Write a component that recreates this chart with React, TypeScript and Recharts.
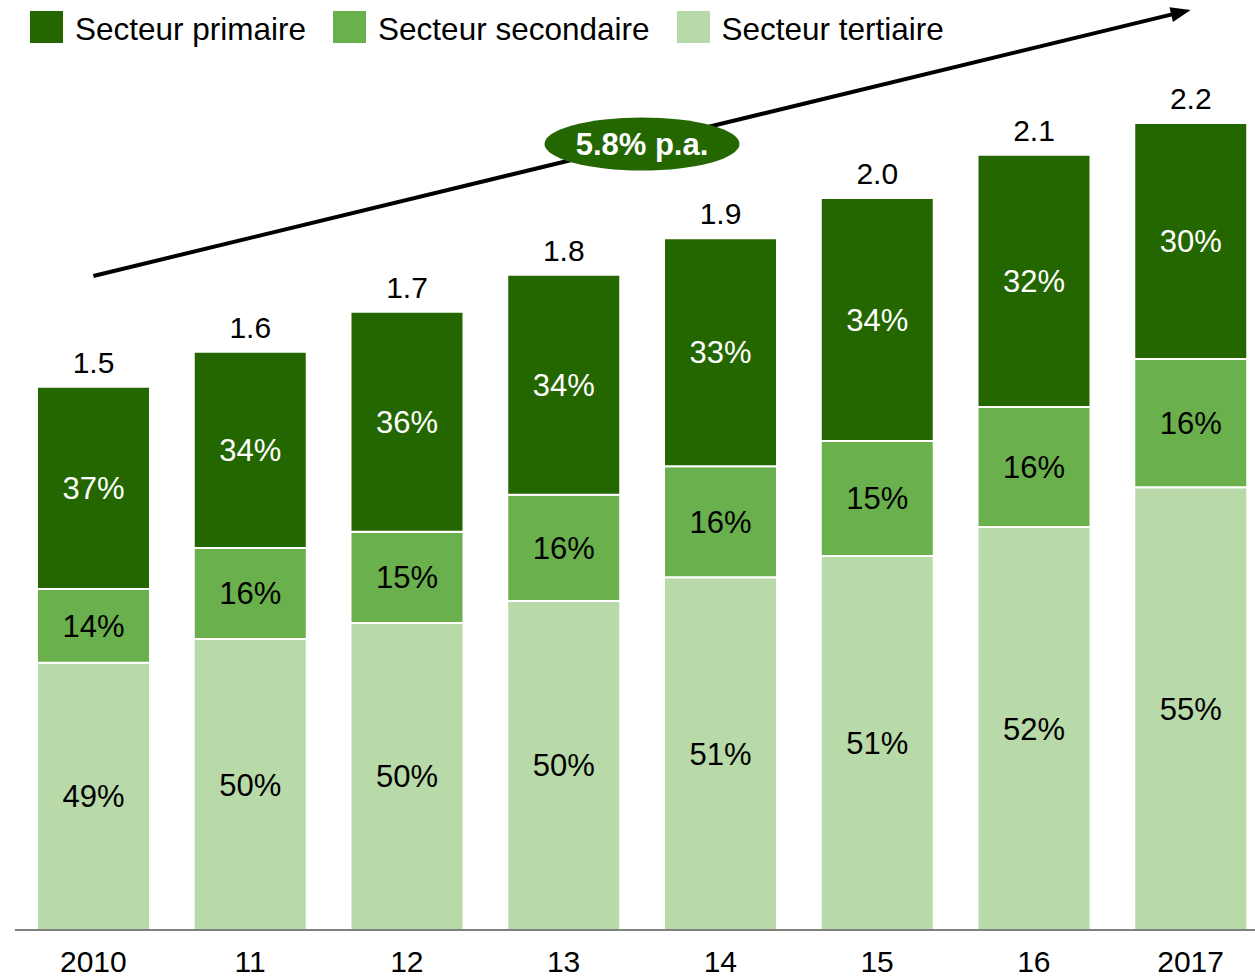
import { BarChart, Bar, XAxis, YAxis, LabelList, Legend, ReferenceLine } from 'recharts';

const years = ['2010', '11', '12', '13', '14', '15', '16', '2017'];
const totalLabels = ['1.5', '1.6', '1.7', '1.8', '1.9', '2.0', '2.1', '2.2'];

// segment sizes (same unit as the totals)
const tertiaire = [0.73, 0.795, 0.839, 0.899, 0.964, 1.022, 1.101, 1.21];
const secondaire = [0.202, 0.249, 0.249, 0.29, 0.303, 0.314, 0.328, 0.35];
const primaire = [0.552, 0.536, 0.601, 0.601, 0.623, 0.664, 0.689, 0.645];

const pctTertiaire = ['49%', '50%', '50%', '50%', '51%', '51%', '52%', '55%'];
const pctSecondaire = ['14%', '16%', '15%', '16%', '16%', '15%', '16%', '16%'];
const pctPrimaire = ['37%', '34%', '36%', '34%', '33%', '34%', '32%', '30%'];

const growthLabel = '5.8% p.a.';
const trendStart = 1.787;
const trendEnd = 2.514;

const DARK = '#246600';
const MID = '#6ab04c';
const LIGHT = '#b8d9a8';

const legendItems = [
  { name: 'Secteur primaire', color: DARK },
  { name: 'Secteur secondaire', color: MID },
  { name: 'Secteur tertiaire', color: LIGHT },
];

const data = years.map((year, i) => ({
  year,
  tertiaire: tertiaire[i],
  secondaire: secondaire[i],
  primaire: primaire[i],
  pctT: pctTertiaire[i],
  pctS: pctSecondaire[i],
  pctP: pctPrimaire[i],
  total: totalLabels[i],
}));

const renderLegend = () => (
  <div style={{ display: 'flex', alignItems: 'center' }}>
    {legendItems.map((item) => (
      <div key={item.name} style={{ display: 'flex', alignItems: 'center', marginRight: 27 }}>
        <span style={{ width: 33, height: 32, background: item.color, display: 'inline-block' }} />
        <span style={{ marginLeft: 12, fontSize: 31.5, lineHeight: '32px', color: '#000', position: 'relative', top: 2 }}>
          {item.name}
        </span>
      </div>
    ))}
  </div>
);

// trend arrow with the growth badge at its middle
const TrendArrow = (props: any) => {
  const { x1, y1, x2, y2 } = props;
  const len = Math.hypot(x2 - x1, y2 - y1);
  const ux = (x2 - x1) / len;
  const uy = (y2 - y1) / len;
  const nx = -uy;
  const ny = ux;
  const headLen = 20;
  const headW = 7.5;
  const bx = x2 - ux * headLen;
  const by = y2 - uy * headLen;
  const mx = (x1 + x2) / 2;
  const my = (y1 + y2) / 2 + 1;
  return (
    <g>
      <line x1={x1} y1={y1} x2={bx + ux * 2} y2={by + uy * 2} stroke="#000" strokeWidth={4} />
      <polygon
        points={`${x2},${y2} ${bx + nx * headW},${by + ny * headW} ${bx - nx * headW},${by - ny * headW}`}
        fill="#000"
      />
      <ellipse cx={mx} cy={my} rx={97.5} ry={26.5} fill={DARK} />
      <text x={mx} y={my + 11} textAnchor="middle" fill="#fff" fontSize={31} fontWeight="bold">
        {growthLabel}
      </text>
    </g>
  );
};

export default function App() {
  return (
    <div
      style={{
        position: 'fixed',
        left: 0,
        top: 0,
        width: 1255,
        height: 978,
        overflow: 'hidden',
        background: '#fff',
        fontFamily: '"Liberation Sans", Arial, sans-serif',
      }}
    >
      <BarChart width={1290} height={978} data={data} margin={{ top: 15, right: 21, left: 15, bottom: 0 }}>
        <YAxis hide domain={[0, 2.5]} />
        <Legend
          layout="horizontal"
          verticalAlign="middle"
          align="center"
          wrapperStyle={{ top: 11, left: 30, width: 1100, height: 33 }}
          content={renderLegend}
        />
        <Bar dataKey="tertiaire" stackId="a" fill={LIGHT} stroke="#fff" strokeWidth={2} barSize={113} isAnimationActive={false}>
          <LabelList dataKey="pctT" position="center" fill="#000" stroke="none" fontSize={31} />
        </Bar>
        <Bar dataKey="secondaire" stackId="a" fill={MID} stroke="#fff" strokeWidth={2} barSize={113} isAnimationActive={false}>
          <LabelList dataKey="pctS" position="center" fill="#000" stroke="none" fontSize={31} />
        </Bar>
        <Bar dataKey="primaire" stackId="a" fill={DARK} stroke="#fff" strokeWidth={2} barSize={113} isAnimationActive={false}>
          <LabelList dataKey="pctP" position="center" fill="#fff" stroke="none" fontSize={31} />
          <LabelList dataKey="total" position="top" offset={14} fill="#000" stroke="none" fontSize={30} />
        </Bar>
        <XAxis
          dataKey="year"
          height={48}
          axisLine={{ stroke: '#808080', strokeWidth: 2 }}
          tickLine={false}
          tickMargin={15}
          interval={0}
          tick={{ fontSize: 30, fill: '#000' }}
        />
        <ReferenceLine
          segment={[
            { x: years[0], y: trendStart },
            { x: years[years.length - 1], y: trendEnd },
          ]}
          ifOverflow="visible"
          shape={TrendArrow}
        />
      </BarChart>
    </div>
  );
}
